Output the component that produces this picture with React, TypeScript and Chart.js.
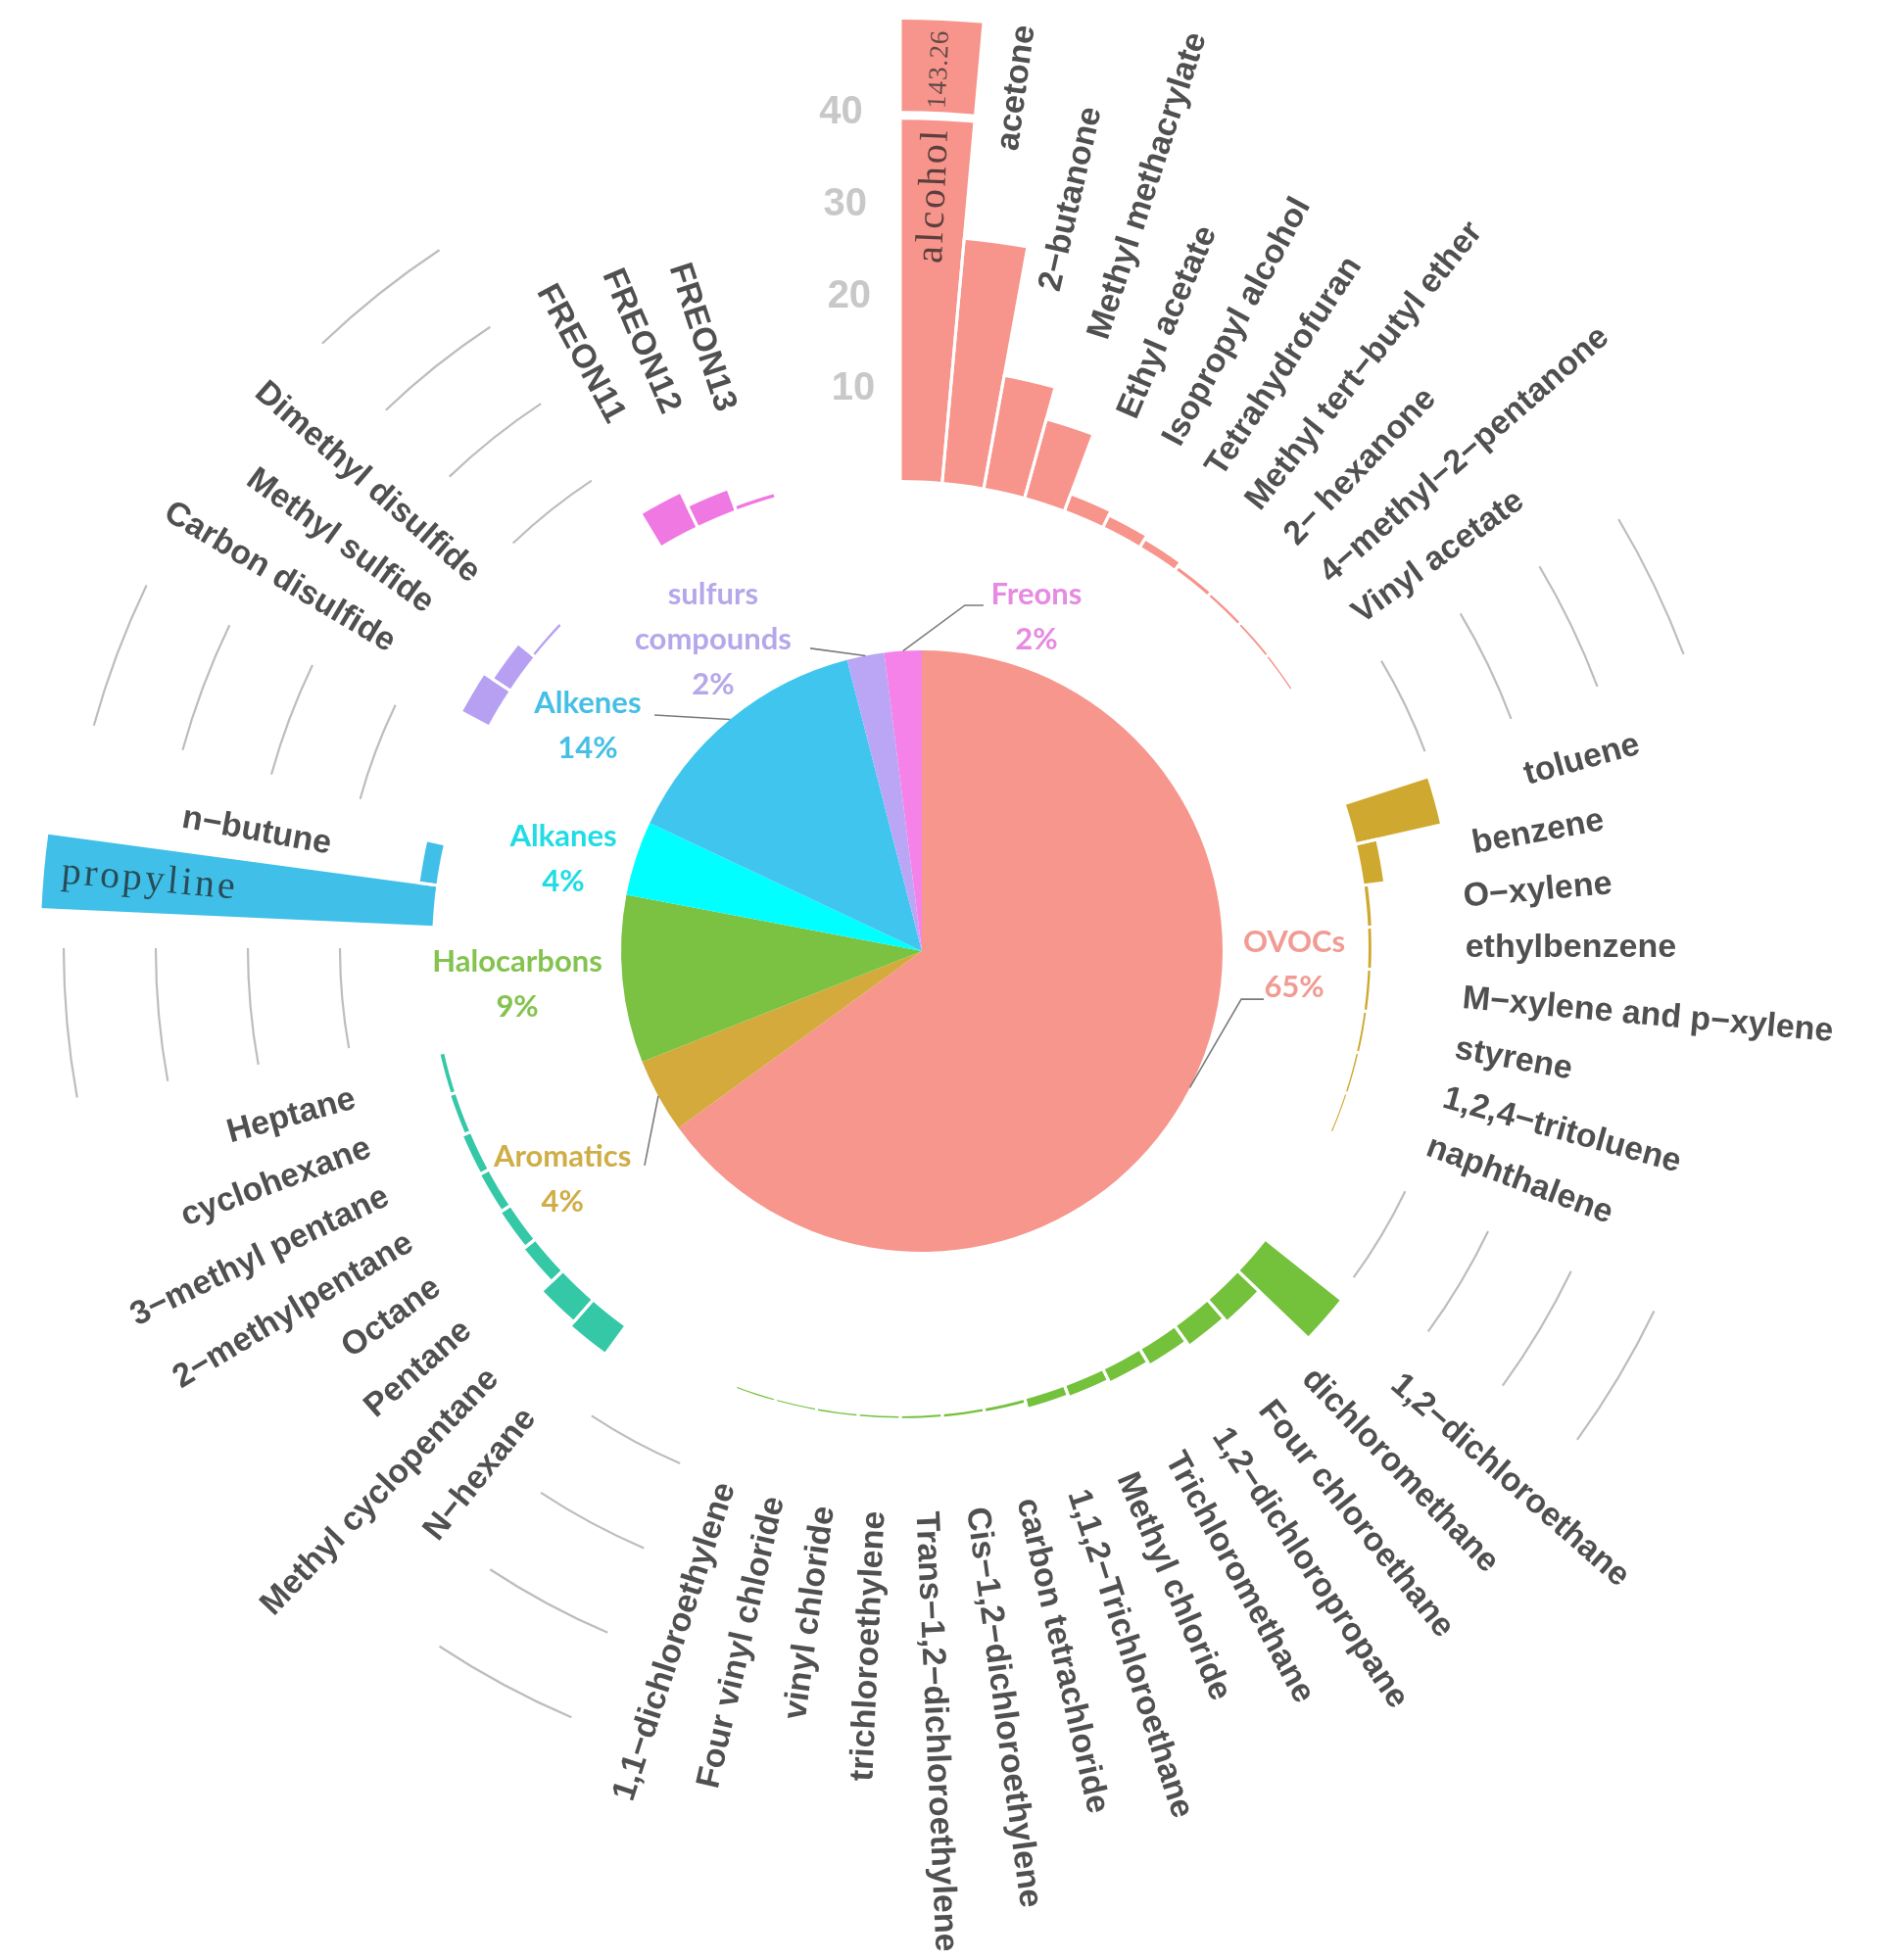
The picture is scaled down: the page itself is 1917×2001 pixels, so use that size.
import React, { useEffect, useRef } from 'react';
import { Chart, registerables } from 'chart.js';

Chart.register(...registerables);

const W = 1917;
const H = 2001;

// ---------------- data ----------------
const GROUP_NAMES = ['OVOCs', 'Aromatics', 'Halocarbons', 'Alkanes', 'Alkenes', 'sulfurs compounds', 'Freons'];
const GROUP_SHARES = [65, 4, 9, 4, 14, 2, 2];

const OVOC_NAMES = ['alcohol', 'acetone', '2−butanone', 'Methyl methacrylate', 'Ethyl acetate', 'Isopropyl alcohol',
  'Tetrahydrofuran', 'Methyl tert−butyl ether', '2− hexanone', '4−methyl−2−pentanone', 'Vinyl acetate'];
const OVOC_VALUES = [143.26, 26.4, 12.2, 8.6, 1.7, 1.2, 0.8, 0.35, 0.25, 0.2, 0.15];

const AROMATIC_NAMES = ['toluene', 'benzene', 'O−xylene', 'ethylbenzene', 'M−xylene and p−xylene', 'styrene',
  '1,2,4−tritoluene', 'naphthalene'];
const AROMATIC_VALUES = [9.3, 2.1, 0.35, 0.3, 0.25, 0.2, 0.15, 0.12];

const HALO_NAMES = ['1,2−dichloroethane', 'dichloromethane', 'Four chloroethane', '1,2−dichloropropane',
  'Trichloromethane', 'Methyl chloride', '1,1,2−Trichloroethane', 'carbon tetrachloride', 'Cis−1,2−dichloroethylene',
  'Trans−1,2−dichloroethylene', 'trichloroethylene', 'vinyl chloride', 'Four vinyl chloride', '1,1−dichloroethylene'];
const HALO_VALUES = [10.3, 2.9, 2.4, 1.8, 1.4, 1.1, 0.9, 0.3, 0.25, 0.2, 0.15, 0.15, 0.12, 0.12];

const ALKANE_NAMES = ['N−hexane', 'Methyl cyclopentane', 'Pentane', 'Octane', '2−methylpentane', '3−methyl pentane',
  'cyclohexane', 'Heptane'];
const ALKANE_VALUES = [3.5, 2.9, 1.4, 1.1, 0.9, 0.8, 0.5, 0.4];

const ALKENE_NAMES = ['propyline', 'n−butune'];
const ALKENE_VALUES = [42.5, 1.8];

const SULFUR_NAMES = ['Carbon disulfide', 'Methyl sulfide', 'Dimethyl disulfide'];
const SULFUR_VALUES = [3.2, 2.1, 0.25];

const FREON_NAMES = ['FREON11', 'FREON12', 'FREON13'];
const FREON_VALUES = [4.0, 2.3, 0.35];

const TICK_VALUES = [10, 20, 30, 40];

// ---------------- styles / layout ----------------
const BAR_COLORS = ['#F7948B', '#CFA82F', '#74C13C', '#35C8A7', '#40C0E8', '#B7A0F2', '#EF78E2'];
const PIE_COLORS = ['#F7968D', '#D4AA3C', '#7CC242', '#00FFFF', '#40C6EE', '#BBA6F6', '#F582E9'];
const PIE_TEXT_COLORS = ['#F19B94', '#CFAE48', '#84C350', '#20DCE4', '#46BFE6', '#B6A7EA', '#E68AE2'];

const GAP_SLOTS = 3;
const SCALE_MIN = -50.85;
const SCALE_MAX = 44.15;
const VALUE_CAP = 50;
const BREAK_AT = 39.6;
const VALUE_TEXT_AT = 44.7;
const INSIDE_LABEL_MIN = 40;
const INSIDE_LABEL_AT = 31;
const LABEL_OFFSET = 10.2;

const RING_PADDING = { left: 26, top: 75, right: 105, bottom: 140 };
const PIE_PADDING = { left: 634, top: 664, right: 669, bottom: 723 };

// label anchors / leader points in units of pie radius, relative to pie centre
const PIE_LABEL_LAYOUT: { x: number; y: number; leader: number[][] }[] = [
  { x: 1.238, y: -0.029, leader: [[1.062, 0.160], [1.137, 0.160]] },
  { x: -1.195, y: 0.684, leader: [[-0.922, 0.713]] },
  { x: -1.345, y: 0.036, leader: [] },
  { x: -1.192, y: -0.381, leader: [] },
  { x: -1.111, y: -0.824, leader: [[-0.889, -0.785]] },
  { x: -0.694, y: -1.186, leader: [[-0.371, -1.007]] },
  { x: 0.381, y: -1.186, leader: [[0.143, -1.150], [0.205, -1.150]] },
];
const PIE_LINE_HEIGHT = 46;

// ---------------- slot table ----------------
const GROUP_ITEMS = [OVOC_NAMES, AROMATIC_NAMES, HALO_NAMES, ALKANE_NAMES, ALKENE_NAMES, SULFUR_NAMES, FREON_NAMES];
const GROUP_VALUES = [OVOC_VALUES, AROMATIC_VALUES, HALO_VALUES, ALKANE_VALUES, ALKENE_VALUES, SULFUR_VALUES, FREON_VALUES];

type Slot = { label: string; value: number; group: number; gap: boolean };
const SLOTS: Slot[] = [];
GROUP_ITEMS.forEach((names, g) => {
  names.forEach((n, i) => SLOTS.push({ label: n, value: GROUP_VALUES[g][i], group: g, gap: false }));
  for (let k = 0; k < GAP_SLOTS; k++) SLOTS.push({ label: '', value: 0, group: g, gap: true });
});

const ringPlugin = {
  id: 'ringDecor',
  afterDatasetsUpdate(chart: any) {
    const scale = chart.scales.r;
    const r0 = scale.getDistanceFromCenterForValue(0);
    chart.getDatasetMeta(0).data.forEach((el: any) => {
      el.innerRadius = r0;
      if (el.outerRadius < r0) el.outerRadius = r0;
    });
  },
  afterDatasetsDraw(chart: any) {
    const ctx: CanvasRenderingContext2D = chart.ctx;
    const scale = chart.scales.r;
    const cx = scale.xCenter;
    const cy = scale.yCenter;
    const R = (v: number) => scale.getDistanceFromCenterForValue(v);
    const arcs = chart.getDatasetMeta(0).data;
    const mid = (el: any) => (el.startAngle + el.endAngle) / 2;
    ctx.save();

    // white separators between bars
    ctx.strokeStyle = '#ffffff';
    ctx.lineWidth = 3;
    arcs.forEach((el: any, i: number) => {
      if (SLOTS[i].gap) return;
      [el.startAngle, el.endAngle].forEach((a: number) => {
        ctx.beginPath();
        ctx.moveTo(cx + Math.cos(a) * (el.innerRadius - 2), cy + Math.sin(a) * (el.innerRadius - 2));
        ctx.lineTo(cx + Math.cos(a) * (el.outerRadius + 2), cy + Math.sin(a) * (el.outerRadius + 2));
        ctx.stroke();
      });
    });

    // axis break for values beyond the cap
    arcs.forEach((el: any, i: number) => {
      const s = SLOTS[i];
      if (s.gap || s.value <= VALUE_CAP) return;
      ctx.beginPath();
      ctx.strokeStyle = '#ffffff';
      ctx.lineWidth = 9;
      ctx.arc(cx, cy, R(BREAK_AT), el.startAngle - 0.02, el.endAngle + 0.02);
      ctx.stroke();
    });

    // gap runs
    const runs: number[][] = [];
    let i = 0;
    while (i < SLOTS.length) {
      if (SLOTS[i].gap) {
        let j = i;
        while (j + 1 < SLOTS.length && SLOTS[j + 1].gap) j++;
        runs.push([i, j]);
        i = j + 1;
      } else i++;
    }
    ctx.strokeStyle = '#bdbdbd';
    ctx.lineWidth = 2.2;
    runs.slice(0, -1).forEach(([a, b]) => {
      const a1 = mid(arcs[a]);
      const a2 = mid(arcs[b]);
      TICK_VALUES.forEach((v) => {
        ctx.beginPath();
        ctx.arc(cx, cy, R(v), a1, a2);
        ctx.stroke();
      });
    });

    // tick labels in last gap
    const lastRun = runs[runs.length - 1];
    const ta = mid(arcs[lastRun[1]]);
    ctx.font = 'bold 40px "Liberation Sans", Arial, sans-serif';
    ctx.fillStyle = '#c8c8c8';
    ctx.textAlign = 'right';
    ctx.textBaseline = 'middle';
    TICK_VALUES.forEach((v) => {
      const r = R(v);
      ctx.fillText(String(v), cx + r * Math.cos(ta), cy + r * Math.sin(ta));
    });

    // item labels
    arcs.forEach((el: any, idx: number) => {
      const s = SLOTS[idx];
      if (s.gap) return;
      const a = mid(el);
      let compass = (a + Math.PI / 2) % (2 * Math.PI);
      if (compass < 0) compass += 2 * Math.PI;
      const right = compass < Math.PI;
      ctx.save();
      ctx.translate(cx, cy);
      ctx.rotate(right ? a : a + Math.PI);
      ctx.textBaseline = 'middle';
      if (s.value >= INSIDE_LABEL_MIN) {
        ctx.font = '40px "Liberation Serif", "DejaVu Serif", serif';
        (ctx as any).letterSpacing = '3px';
        ctx.fillStyle = 'rgba(30,30,30,0.72)';
        ctx.textAlign = 'center';
        const r = R(INSIDE_LABEL_AT);
        ctx.fillText(s.label, right ? r : -r, 0);
        if (s.value > VALUE_CAP) {
          ctx.font = '27px "Liberation Serif", "DejaVu Serif", serif';
          (ctx as any).letterSpacing = '1px';
          ctx.fillStyle = 'rgba(50,50,50,0.75)';
          const rv = R(VALUE_TEXT_AT);
          ctx.fillText(String(s.value), right ? rv : -rv, 0);
        }
        (ctx as any).letterSpacing = '0px';
      } else {
        ctx.font = 'bold 34px "Liberation Sans", Arial, sans-serif';
        ctx.fillStyle = '#505050';
        ctx.textAlign = right ? 'left' : 'right';
        const r = R(Math.min(s.value, VALUE_CAP) + LABEL_OFFSET);
        ctx.fillText(s.label, right ? r : -r, 0);
      }
      ctx.restore();
    });
    ctx.restore();
  },
};

const pieLabelPlugin = {
  id: 'pieLabels',
  afterDatasetsDraw(chart: any) {
    const ctx: CanvasRenderingContext2D = chart.ctx;
    const arcs = chart.getDatasetMeta(0).data;
    const cx = arcs[0].x;
    const cy = arcs[0].y;
    const R = arcs[0].outerRadius;
    ctx.save();
    GROUP_NAMES.forEach((name, g) => {
      const el = arcs[g];
      const m = (el.startAngle + el.endAngle) / 2;
      const lay = PIE_LABEL_LAYOUT[g];
      if (lay.leader.length) {
        ctx.beginPath();
        ctx.strokeStyle = '#7a7a7a';
        ctx.lineWidth = 1.6;
        ctx.moveTo(cx + R * Math.cos(m), cy + R * Math.sin(m));
        lay.leader.forEach(([ux, uy]) => ctx.lineTo(cx + ux * R, cy + uy * R));
        ctx.stroke();
      }
      const lines = [...name.split(' '), `${GROUP_SHARES[g]}%`];
      ctx.font = 'bold 31px Lato, "Open Sans", sans-serif';
      ctx.fillStyle = PIE_TEXT_COLORS[g];
      ctx.textAlign = 'center';
      ctx.textBaseline = 'middle';
      lines.forEach((t, k) => ctx.fillText(t, cx + lay.x * R, cy + lay.y * R + k * PIE_LINE_HEIGHT));
    });
    ctx.restore();
  },
};

export default function App() {
  const ringRef = useRef<HTMLCanvasElement>(null);
  const pieRef = useRef<HTMLCanvasElement>(null);

  useEffect(() => {
    const ring = new Chart(ringRef.current as HTMLCanvasElement, {
      type: 'polarArea',
      data: {
        labels: SLOTS.map((s) => s.label),
        datasets: [
          {
            data: SLOTS.map((s) => (s.gap ? 0 : Math.min(s.value, VALUE_CAP))),
            backgroundColor: SLOTS.map((s) => (s.gap ? 'rgba(0,0,0,0)' : BAR_COLORS[s.group])),
            borderWidth: 0,
            clip: false as any,
          } as any,
        ],
      },
      options: {
        responsive: false,
        animation: false,
        events: [],
        layout: { padding: RING_PADDING },
        scales: {
          r: {
            min: SCALE_MIN,
            max: SCALE_MAX,
            ticks: { display: false, stepSize: 10 },
            grid: { display: false },
            angleLines: { display: false },
            pointLabels: { display: false },
          },
        },
        plugins: { legend: { display: false }, tooltip: { enabled: false } },
      } as any,
      plugins: [ringPlugin],
    });

    const pie = new Chart(pieRef.current as HTMLCanvasElement, {
      type: 'pie',
      data: {
        labels: GROUP_NAMES,
        datasets: [{ data: GROUP_SHARES, backgroundColor: PIE_COLORS, borderWidth: 0 }],
      },
      options: {
        responsive: false,
        animation: false,
        events: [],
        layout: { padding: PIE_PADDING },
        plugins: { legend: { display: false }, tooltip: { enabled: false } },
      } as any,
      plugins: [pieLabelPlugin],
    });

    return () => {
      ring.destroy();
      pie.destroy();
    };
  }, []);

  const canvasStyle: React.CSSProperties = { position: 'absolute', left: 0, top: 0, width: W, height: H };
  return (
    <div style={{ position: 'absolute', left: 0, top: 0, width: W, height: H, background: '#ffffff' }}>
      <canvas ref={ringRef} width={W} height={H} style={canvasStyle} />
      <canvas ref={pieRef} width={W} height={H} style={canvasStyle} />
    </div>
  );
}
